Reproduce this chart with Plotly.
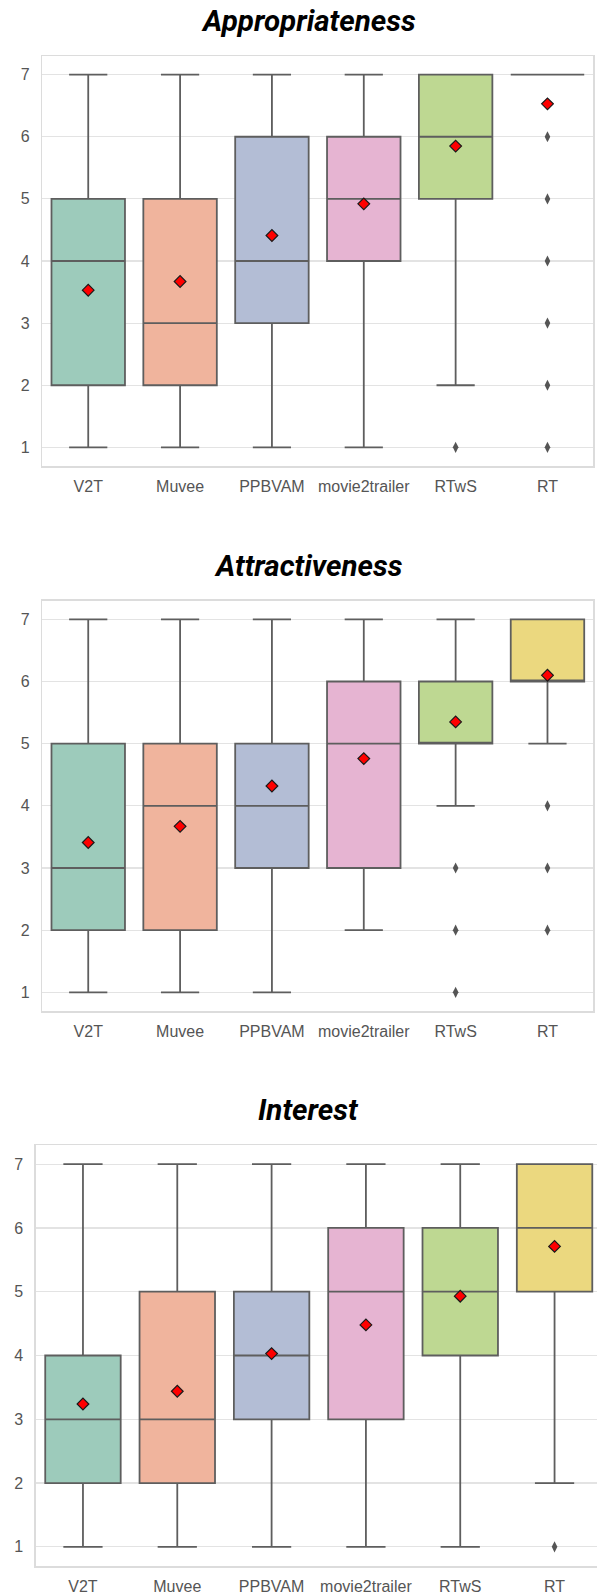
import plotly.graph_objects as go

categories = ["V2T", "Muvee", "PPBVAM", "movie2trailer", "RTwS", "RT"]
panel_titles = ["Appropriateness", "Attractiveness", "Interest"]
y_ticks = [1, 2, 3, 4, 5, 6, 7]

# Appropriateness
appr_q1 = [2, 2, 3, 4, 5, 7]
appr_median = [4, 3, 4, 5, 6, 7]
appr_q3 = [5, 5, 6, 6, 7, 7]
appr_low = [1, 1, 1, 1, 2, 7]
appr_high = [7, 7, 7, 7, 7, 7]
appr_mean = [3.53, 3.67, 4.41, 4.92, 5.85, 6.53]
appr_out_x = ["RTwS", "RT", "RT", "RT", "RT", "RT", "RT"]
appr_out_y = [1, 6, 5, 4, 3, 2, 1]

# Attractiveness
attr_q1 = [2, 2, 3, 3, 5, 6]
attr_median = [3, 4, 4, 5, 5, 6]
attr_q3 = [5, 5, 5, 6, 6, 7]
attr_low = [1, 1, 1, 2, 4, 5]
attr_high = [7, 7, 7, 7, 7, 7]
attr_mean = [3.41, 3.67, 4.32, 4.76, 5.35, 6.10]
attr_out_x = ["RTwS", "RTwS", "RTwS", "RT", "RT", "RT"]
attr_out_y = [3, 2, 1, 4, 3, 2]

# Interest
int_q1 = [2, 2, 3, 3, 4, 5]
int_median = [3, 3, 4, 5, 5, 6]
int_q3 = [4, 5, 5, 6, 6, 7]
int_low = [1, 1, 1, 1, 1, 2]
int_high = [7, 7, 7, 7, 7, 7]
int_mean = [3.24, 3.44, 4.03, 4.48, 4.93, 5.71]
int_out_x = ["RT"]
int_out_y = [1]

fill_colors = ["#9dcbbb", "#f0b49d", "#b3bdd5", "#e6b4d2", "#bed892", "#ebd87f"]
edge_color = "#5e5e5e"

panels = [
    (appr_q1, appr_median, appr_q3, appr_low, appr_high, appr_mean, appr_out_x, appr_out_y),
    (attr_q1, attr_median, attr_q3, attr_low, attr_high, attr_mean, attr_out_x, attr_out_y),
    (int_q1, int_median, int_q3, int_low, int_high, int_mean, int_out_x, int_out_y),
]

W, H = 597, 1593
# panel geometry in pixels (top, bottom, left, right)
geom = [(56, 466, 42.3, 593.4), (600.7, 1011, 42.3, 593.4), (1145, 1566, 35.8, 597)]
x_ranges = [[-0.5, 5.5], [-0.5, 5.5], [-0.5, 5.45]]
title_y = [21, 566, 1110]

fig = go.Figure()
layout = dict(
    width=W, height=H, autosize=False,
    margin=dict(l=0, r=0, t=0, b=0, pad=0),
    paper_bgcolor="white", plot_bgcolor="white",
    boxmode="overlay", showlegend=False,
)

for p, (q1, med, q3, lo, hi, mean, ox, oy) in enumerate(panels):
    sfx = "" if p == 0 else str(p + 1)
    xa, ya = "x" + sfx, "y" + sfx
    for i, cat in enumerate(categories):
        fig.add_trace(go.Box(
            x=[cat], q1=[q1[i]], median=[med[i]], q3=[q3[i]],
            lowerfence=[lo[i]], upperfence=[hi[i]],
            width=0.8, whiskerwidth=0.52,
            fillcolor=fill_colors[i],
            line=dict(color=edge_color, width=1.8),
            boxpoints=False, xaxis=xa, yaxis=ya, hoverinfo="skip",
        ))
    fig.add_trace(go.Scatter(
        x=ox, y=oy, mode="markers", xaxis=xa, yaxis=ya,
        marker=dict(symbol="diamond-tall", size=8, color="#555555",
                    line=dict(width=0)),
        hoverinfo="skip",
    ))
    fig.add_trace(go.Scatter(
        x=categories, y=mean, mode="markers", xaxis=xa, yaxis=ya,
        marker=dict(symbol="diamond", size=9, color="#ff0000",
                    line=dict(width=1.2, color="#1a1a1a")),
        hoverinfo="skip",
    ))
    top, bot, left, right = geom[p]
    ydom = [(H - bot) / H, (H - top) / H]
    xdom = [left / W, min(right / W, 1.0)]
    layout["xaxis" + sfx] = dict(
        domain=xdom, anchor=ya, type="category", categoryorder="array",
        categoryarray=categories, range=x_ranges[p], automargin=False,
        showgrid=False, zeroline=False, showline=True, mirror=True,
        linecolor="#dcdcdc", linewidth=1.5, ticks="",
        ticklabelstandoff=5,
        tickfont=dict(family="Liberation Sans, Arial, sans-serif", size=16, color="#555555"),
    )
    layout["yaxis" + sfx] = dict(
        domain=ydom, anchor=xa, range=[0.7, 7.3], automargin=False,
        tickvals=y_ticks, ticktext=[str(v) for v in y_ticks],
        showgrid=True, gridcolor="#e3e3e3", gridwidth=1.2,
        zeroline=False, showline=True, mirror=True,
        linecolor="#dcdcdc", linewidth=1.5, ticks="",
        ticklabelstandoff=8,
        tickfont=dict(family="Liberation Sans, Arial, sans-serif", size=16, color="#555555"),
    )

annotations = []
for p, t in enumerate(panel_titles):
    annotations.append(dict(
        text=t, xref="paper", yref="paper", x=308 / W, y=(H - title_y[p]) / H,
        xanchor="center", yanchor="middle", showarrow=False,
        font=dict(family="Roboto, sans-serif", size=29.5, color="black",
                  weight="bold", style="italic"),
    ))
layout["annotations"] = annotations

fig.update_layout(**layout)
fig.write_html(
    "out.html",
    config={"displayModeBar": False, "staticPlot": True},
    post_script="document.body.style.margin='0';document.body.style.overflow='hidden';",
)
